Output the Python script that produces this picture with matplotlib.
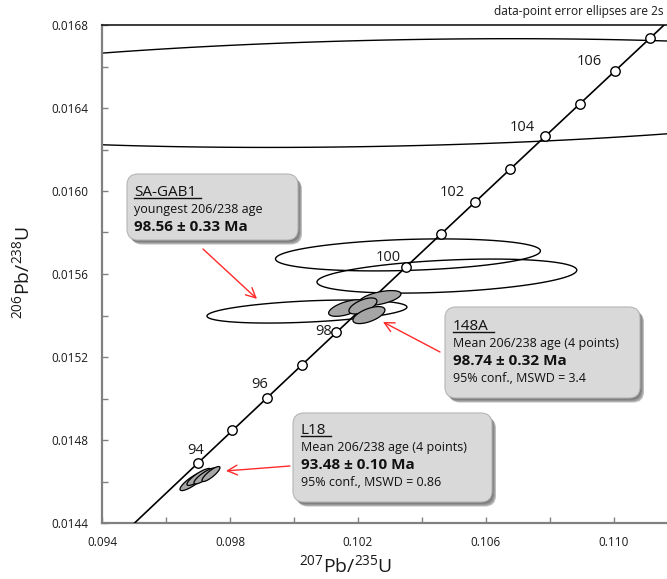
import numpy as np
import matplotlib
matplotlib.use("Agg")
import matplotlib.pyplot as plt
from matplotlib import transforms as mtransforms
from matplotlib.patches import FancyBboxPatch, Polygon

plt.rcParams['font.family'] = ['Open Sans', 'DejaVu Sans']
plt.rcParams['mathtext.fontset'] = 'custom'
plt.rcParams['mathtext.rm'] = 'Open Sans'
plt.rcParams['mathtext.it'] = 'Open Sans:italic'
plt.rcParams['mathtext.bf'] = 'Open Sans:bold'

W, H, DPI = 667, 579, 100

# U decay constants (1/yr)
LAMBDA_238 = 1.55125e-10
LAMBDA_235 = 9.8485e-10

# concordia age marks (Ma)
marker_ages = [94, 95, 96, 97, 98, 99, 100, 101, 102, 103, 104, 105, 106, 107]
labelled_ages = [94, 96, 98, 100, 102, 104, 106]

# axis ticks
x_ticks = [0.094, 0.098, 0.102, 0.106, 0.110]
x_tick_labels = ["0.094", "0.098", "0.102", "0.106", "0.110"]
x_minor = [0.096, 0.100, 0.104, 0.108]
y_ticks = [0.0144, 0.0148, 0.0152, 0.0156, 0.0160, 0.0164, 0.0168]
y_tick_labels = ["0.0144", "0.0148", "0.0152", "0.0156", "0.0160", "0.0164", "0.0168"]
y_minor = [0.0146, 0.0150, 0.0154, 0.0158, 0.0162, 0.0166]

# SA-GAB1 and other open analyses: 207/235, 206/238, 2s, 2s, rho
open_x = [0.1030, 0.103563, 0.10478, 0.100406]
open_y = [0.016472, 0.015692, 0.015590, 0.015419]
open_sx = [0.0178, 0.00414, 0.00406, 0.003125]
open_sy = [0.000262, 0.0000771, 0.000082, 0.0000554]
open_rho = [0.214, 0.25, 0.35, 0.39]

# sample 148A (4 points)
s148_x = [0.102688, 0.101656, 0.102156, 0.102344]
s148_y = [0.015484, 0.015436, 0.015446, 0.015402]
s148_sx = [0.000656, 0.000572, 0.000438, 0.000500]
s148_sy = [0.0000361, 0.0000400, 0.0000386, 0.0000410]
s148_rho = [0.55, 0.6, 0.6, 0.6]

# sample L18 (4 points)
l18_x = [0.096844, 0.097031, 0.097219, 0.097406]
l18_y = [0.014602, 0.014622, 0.014627, 0.014636]
l18_sx = [0.000406, 0.000375, 0.000344, 0.000281]
l18_sy = [0.0000458, 0.0000410, 0.0000386, 0.0000361]
l18_rho = [0.85, 0.85, 0.85, 0.85]

# arrow tips (data space)
arrow_tip_x = [0.098844, 0.102781, 0.097875]
arrow_tip_y = [0.015480, 0.015369, 0.014651]


def concordia(age_ma):
    t = np.asarray(age_ma, dtype=float) * 1e6
    return np.expm1(LAMBDA_235 * t), np.expm1(LAMBDA_238 * t)


def ellipse_xy(cx, cy, sx, sy, rho, n=400):
    t = np.linspace(0, 2 * np.pi, n)
    x = cx + sx * np.cos(t)
    y = cy + sy * (rho * np.cos(t) + np.sqrt(1 - rho ** 2) * np.sin(t))
    return np.column_stack([x, y])


fig = plt.figure(figsize=(W / DPI, H / DPI), dpi=DPI)
# pixel coordinates measured from the top-left corner
pix = mtransforms.Affine2D().scale(1, -1).translate(0, H)

ax = fig.add_axes([102 / W, 1 - 523 / H, 1 - 102 / W, (523 - 25) / H])
ax.set_xlim(0.094, 0.11166)
ax.set_ylim(0.0144, 0.0168)

spine_grey = "#808080"
for side in ("left", "bottom"):
    ax.spines[side].set_color(spine_grey)
    ax.spines[side].set_linewidth(1.6)
ax.spines["right"].set_visible(False)
ax.spines["top"].set_color("#1a1a1a")
ax.spines["top"].set_linewidth(1.2)

ax.set_xticks(x_ticks)
ax.set_xticklabels(x_tick_labels)
ax.set_xticks(x_minor, minor=True)
ax.set_yticks(y_ticks)
ax.set_yticklabels(y_tick_labels)
ax.set_yticks(y_minor, minor=True)
ax.tick_params(which="both", direction="in", length=4, width=1.0,
               color=spine_grey, labelsize=8.5, labelcolor="#1a1a1a")
ax.tick_params(axis="x", pad=9)
ax.tick_params(axis="y", pad=10)

# open ellipses
for cx, cy, sx, sy, r in zip(open_x, open_y, open_sx, open_sy, open_rho):
    ax.add_patch(Polygon(ellipse_xy(cx, cy, sx, sy, r), closed=True,
                         facecolor="none", edgecolor="black", lw=1.0, zorder=2))

# concordia curve
ages = np.linspace(85, 115, 400)
cx_, cy_ = concordia(ages)
ax.plot(cx_, cy_, color="black", lw=1.2, zorder=3)

# age marks
mx, my = concordia(marker_ages)
ax.plot(mx, my, "o", ms=6.8, mfc="white", mec="black", mew=1.0, zorder=4,
        clip_on=False)

# filled sample ellipses (148A sits over the concordia, L18 below the marks)
for xs, ys, sxs, sys_, rs, z in ((s148_x, s148_y, s148_sx, s148_sy, s148_rho, 4.5),
                                 (l18_x, l18_y, l18_sx, l18_sy, l18_rho, 3.5)):
    for cx, cy, sx, sy, r in zip(xs, ys, sxs, sys_, rs):
        ax.add_patch(Polygon(ellipse_xy(cx, cy, sx, sy, r), closed=True,
                             facecolor="#a6a6a6", edgecolor="black", lw=0.9,
                             zorder=z))

label_offsets = {94: (-2, 13), 96: (-7, 13), 98: (-13, 1), 100: (-18, 10),
                 102: (-23, 9), 104: (-23, 9), 106: (-26, 9)}
lx, ly = concordia(labelled_ages)
for age, x, y in zip(labelled_ages, lx, ly):
    dx, dy = label_offsets[age]
    ax.annotate(str(age), (x, y), xytext=(dx * 0.72, dy * 0.72),
                textcoords="offset points", ha="center", va="center",
                fontsize=10.5, color="#1a1a1a", zorder=5)

# axis titles
fig.text(346, 565, r"$^{207}$Pb/$^{235}$U", transform=pix, ha="center",
         va="center", fontsize=14, color="#1a1a1a")
fig.text(22, 272, r"$^{206}$Pb/$^{238}$U", transform=pix, ha="center",
         va="center", fontsize=14, rotation=90, color="#1a1a1a")
fig.text(664, 11, "data-point error ellipses are 2s", transform=pix,
         ha="right", va="center", fontsize=8.6, color="#1a1a1a")

# callout boxes
boxes = [
    dict(box=(127, 174, 298, 240), x=134, tail=(203, 249),
         lines=[("SA-GAB1", 192, 11, "normal", True),
                ("youngest 206/238 age", 210, 9, "normal", False),
                ("98.56 ± 0.33 Ma", 227, 11, "bold", False)]),
    dict(box=(445, 307, 640, 398), x=453, tail=(440, 352),
         lines=[("148A", 326, 11, "normal", True),
                ("Mean 206/238 age (4 points)", 343, 9, "normal", False),
                ("98.74 ± 0.32 Ma", 361, 11, "bold", False),
                ("95% conf., MSWD = 3.4", 379, 9, "normal", False)]),
    dict(box=(293, 413, 492, 502), x=301, tail=(290, 466),
         lines=[("L18", 430, 11, "normal", True),
                ("Mean 206/238 age (4 points)", 447, 9, "normal", False),
                ("93.48 ± 0.10 Ma", 465, 11, "bold", False),
                ("95% conf., MSWD = 0.86", 482, 9, "normal", False)]),
]

underlined = []
for b, tx, ty in zip(boxes, arrow_tip_x, arrow_tip_y):
    x0, y0, x1, y1 = b["box"]
    for k, a in enumerate((0.18, 0.18, 0.22, 0.3)):
        off = 1.0 + k
        fig.patches.append(FancyBboxPatch(
            (x0 + off, y0 + off + 0.5), x1 - x0, y1 - y0,
            boxstyle="round,pad=0,rounding_size=11", transform=pix,
            facecolor="#2b2b2b", edgecolor="none", alpha=a, zorder=6))
    fig.patches.append(FancyBboxPatch(
        (x0, y0), x1 - x0, y1 - y0,
        boxstyle="round,pad=0,rounding_size=11", transform=pix,
        facecolor="#d9d9d9", edgecolor="#b5b5b5", lw=0.8, zorder=7))
    for text, yy, fs, fw, ul in b["lines"]:
        t = fig.text(b["x"], yy, text, transform=pix, ha="left", va="center",
                     fontsize=fs, fontweight=fw, color="#111111", zorder=8)
        if ul:
            underlined.append(t)
    ax.annotate("", xy=(tx, ty), xycoords="data", xytext=b["tail"],
                textcoords=pix,
                arrowprops=dict(arrowstyle="->,head_length=0.7,head_width=0.35",
                                color="#ff2a2a", lw=1.0, shrinkA=0, shrinkB=0),
                zorder=5, annotation_clip=False)

fig.canvas.draw()
renderer = fig.canvas.get_renderer()
for t in underlined:
    bb = t.get_window_extent(renderer)
    yline = bb.y0 + 1.5
    fig.lines.append(plt.Line2D([bb.x0, bb.x1 + 5], [yline, yline],
                                transform=mtransforms.IdentityTransform(),
                                color="#111111", lw=1.0, zorder=9))

fig.savefig("out.png", dpi=DPI)
